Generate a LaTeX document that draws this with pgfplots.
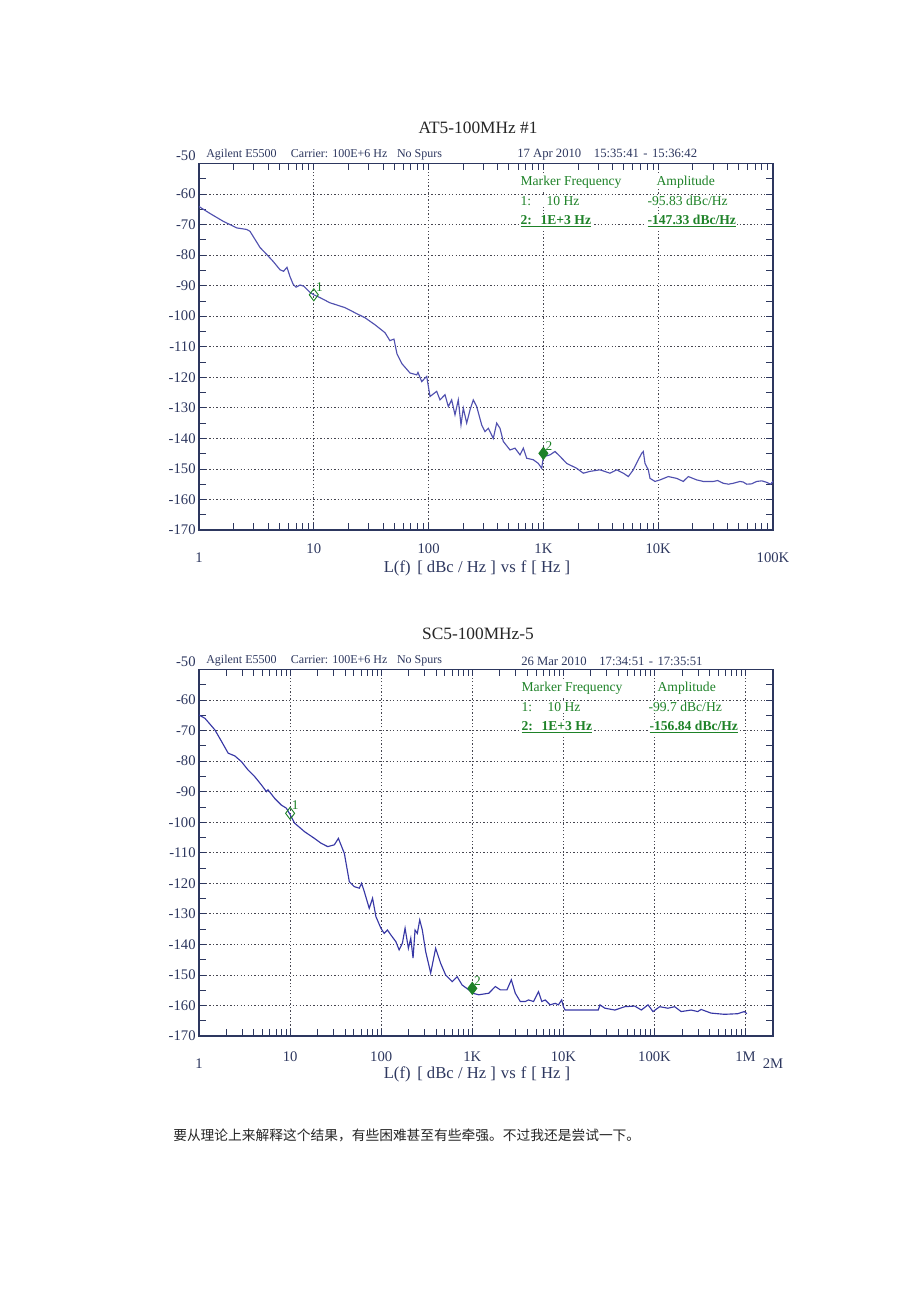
\documentclass[border=0pt]{standalone}
\usepackage{fontspec}
\setmainfont{Liberation Serif}
\newfontfamily\cjk{Noto Sans CJK SC}
\usepackage{pgfplots}
\pgfplotsset{compat=1.18}
\definecolor{navy}{RGB}{45,55,95}
\definecolor{mgreen}{RGB}{30,130,40}
\definecolor{curveA}{RGB}{80,80,175}
\definecolor{curveB}{RGB}{55,55,165}
\definecolor{gridc}{RGB}{70,70,80}
\newcommand\fs[1]{\fontsize{#1}{#1}\selectfont}
\newcommand\lowA[1]{\rule{0pt}{14.2pt}#1}
\newcommand\lowB[1]{\rule{0pt}{12.7pt}#1}
\newcommand\hi[1]{\rule[-12pt]{0pt}{12pt}#1}

\pgfplotstableread{
f L
1 -64.1
1.25 -66.4
1.62 -68.9
2.13 -71.1
2.6 -71.6
2.78 -72.2
3.08 -74.9
3.4 -77.5
3.89 -79.8
4.41 -82.0
5.08 -84.8
5.45 -85.3
5.84 -84.0
6.2 -87.0
6.6 -89.5
7.0 -90.5
7.6 -89.8
8.2 -90.2
9.27 -92.2
10 -93.0
11.3 -93.9
13.8 -95.6
18.7 -97.2
22.9 -98.9
27.9 -100.5
34.1 -102.8
41.7 -105.4
46 -108.0
49.9 -107.5
53 -112.3
58.7 -115.6
68.9 -118.6
78.8 -119.2
80.8 -118.4
87.1 -121.4
96.3 -119.7
102.9 -126.3
117.6 -124.6
125.7 -127.4
139 -125.7
148.5 -129.6
158.9 -127.4
169.8 -132.3
181.4 -127.4
191.5 -135.6
200.6 -130.1
214.7 -135.0
229.4 -130.7
245.1 -127.4
262.4 -129.6
290.1 -135.6
309.9 -137.8
331.1 -136.7
366.1 -140.0
391.9 -135.0
418.8 -136.7
447.4 -141.0
511.7 -143.8
565.6 -143.2
625.6 -145.4
668.3 -143.2
715.4 -146.5
816.6 -147.0
902.7 -148.2
966.5 -149.8
1000 -146.0
1141 -145.4
1262 -144.3
1395 -145.9
1596 -148.2
1950 -149.8
2227 -151.4
2547 -150.8
3112 -150.3
3803 -151.4
4350 -150.3
4967 -151.4
5492 -152.5
6069 -150.3
6709 -147.0
7181 -144.9
7418 -144.3
7674 -148.2
8200 -150.3
8485 -153.1
9377 -154.1
10368 -153.6
12246 -152.5
14496 -153.1
16542 -154.1
18290 -152.5
21646 -153.6
24717 -154.1
30200 -154.1
33000 -153.8
36900 -154.7
41000 -155.0
45100 -154.7
51600 -154.1
55000 -154.3
59000 -155.0
65000 -154.9
72100 -154.1
80000 -153.9
88100 -154.4
95000 -155.0
100000 -154.1
}\dataA

\pgfplotstableread{
f L
1 -64.9
1.163 -66.0
1.496 -69.8
1.771 -73.6
2.09 -77.4
2.475 -78.3
2.928 -80.2
3.458 -82.9
4.093 -85.1
4.845 -87.8
5.495 -90.0
5.72 -89.4
6.77 -92.2
8.01 -94.4
9.09 -95.4
10 -97.5
11.2 -100.3
14.4 -103.1
18.5 -105.3
21.9 -106.9
25.9 -108.0
30.6 -107.4
33.9 -105.3
39.4 -110.2
44.7 -119.5
50.7 -121.1
57.5 -121.6
60.9 -120.0
65.2 -122.7
73.9 -128.2
80.4 -124.9
87.5 -130.9
99.2 -134.7
107.8 -136.4
117.2 -135.3
127.6 -136.9
144.8 -139.1
157.3 -141.8
170.9 -139.6
182.9 -134.7
198.8 -141.3
211.2 -138.0
223.7 -144.5
235.3 -135.3
249.3 -136.4
264.8 -132.0
282.8 -135.3
308 -142.4
349.4 -149.4
396.1 -141.3
449.3 -146.2
509.5 -150.0
601.6 -152.2
682.2 -150.6
773.6 -153.3
915.6 -154.9
1013 -156.0
1178 -156.5
1515 -156.0
1793 -153.8
2033 -154.9
2401 -154.9
2682 -151.6
2966 -156.0
3364 -158.7
3814 -158.7
4145 -158.2
4700 -158.7
5331 -155.5
5792 -158.7
6310 -158.2
7155 -159.8
8118 -159.3
8820 -159.8
9581 -158.2
10000 -160.4
10437 -161.5
12320 -161.5
14585 -161.5
24130 -161.5
25190 -159.8
28560 -160.9
36730 -161.5
47240 -160.4
60760 -160.2
71750 -161.5
84920 -159.8
96300 -162.0
114000 -160.4
140500 -160.9
166300 -160.4
196300 -162.0
252500 -161.5
298800 -162.0
324800 -161.3
417700 -162.5
585200 -162.9
817800 -162.7
967800 -162.0
1033000 -162.7
}\dataB

\begin{document}
\begin{tikzpicture}
\useasboundingbox (0,0) rectangle (690pt,-976.5pt);
\fill[white] (0,0) rectangle (690pt,-976.5pt);

% ---------------- Plot 1 ----------------
\begin{axis}[at={(149.25pt,-397.5pt)}, anchor=south west,
    scale only axis, width=430.5pt, height=274.9pt,
    xmode=log, xmin=1, xmax=100000, ymin=-170, ymax=-50,
    axis line style={navy, line width=0.8pt},
    ytick={-170,-160,-150,-140,-130,-120,-110,-100,-90,-80,-70,-60,-50},
    yticklabels={-170,-160,-150,-140,-130,-120,-110,-100,-90,-80,-70,-60,\hi{-50}},
    minor ytick={-165,-155,-145,-135,-125,-115,-105,-95,-85,-75,-65,-55},
    tick style={navy, line width=0.6pt},
    major tick length=5pt, minor tick length=5pt,
    tick align=inside,
    grid=major,
    major grid style={gridc, line width=0.6pt, dash pattern=on 1pt off 1.6pt},
    ticklabel style={font=\fs{11}, text=navy},
    yticklabel style={xshift=1pt},
    xtick={1,10,100,1000,10000,100000},
    xticklabels={\lowA{1},10,100,1K,10K,\lowA{100K}},
    minor xtick={2,3,4,5,6,7,8,9,20,30,40,50,60,70,80,90,200,300,400,500,600,700,800,900,2000,3000,4000,5000,6000,7000,8000,9000,20000,30000,40000,50000,60000,70000,80000,90000},
    xticklabel style={yshift=-6.75pt},
]
\addplot[curveA, line width=0.85pt] table[x=f, y=L] {\dataA};
\addplot[only marks, mark=diamond, mark size=4.5pt, mgreen, line width=0.7pt] coordinates {(10,-93.0)};
\addplot[only marks, mark=diamond*, mark size=4.5pt, mgreen, line width=0.7pt] coordinates {(1000,-144.9)};
\node[anchor=south west, font=\fs{10}, text=mgreen, inner sep=0pt] at (axis cs:10.4,-92) {1};
\node[anchor=south west, font=\fs{10}, text=mgreen, inner sep=0pt] at (axis cs:1040,-144) {2};
\end{axis}

% ---------------- Plot 2 ----------------
\begin{axis}[at={(149.25pt,-777pt)}, anchor=south west,
    scale only axis, width=430.5pt, height=274.9pt,
    xmode=log, xmin=1, xmax=2000000, ymin=-170, ymax=-50,
    axis line style={navy, line width=0.8pt},
    ytick={-170,-160,-150,-140,-130,-120,-110,-100,-90,-80,-70,-60,-50},
    yticklabels={-170,-160,-150,-140,-130,-120,-110,-100,-90,-80,-70,-60,\hi{-50}},
    minor ytick={-165,-155,-145,-135,-125,-115,-105,-95,-85,-75,-65,-55},
    tick style={navy, line width=0.6pt},
    major tick length=5pt, minor tick length=5pt,
    tick align=inside,
    grid=major,
    major grid style={gridc, line width=0.6pt, dash pattern=on 1pt off 1.6pt},
    ticklabel style={font=\fs{11}, text=navy},
    yticklabel style={xshift=1pt},
    xtick={1,10,100,1000,10000,100000,1000000,2000000},
    xticklabels={\lowB{1},10,100,1K,10K,100K,1M,\lowB{2M}},
    minor xtick={2,3,4,5,6,7,8,9,20,30,40,50,60,70,80,90,200,300,400,500,600,700,800,900,2000,3000,4000,5000,6000,7000,8000,9000,20000,30000,40000,50000,60000,70000,80000,90000,200000,300000,400000,500000,600000,700000,800000,900000},
    xticklabel style={yshift=-8.25pt},
]
\addplot[curveB, line width=0.85pt] table[x=f, y=L] {\dataB};
\addplot[only marks, mark=diamond, mark size=4.5pt, mgreen, line width=0.7pt] coordinates {(10,-97.1)};
\addplot[only marks, mark=diamond*, mark size=4.5pt, mgreen, line width=0.7pt] coordinates {(1000,-154.4)};
\node[anchor=south west, font=\fs{10}, text=mgreen, inner sep=0pt] at (axis cs:10.4,-96) {1};
\node[anchor=south west, font=\fs{10}, text=mgreen, inner sep=0pt] at (axis cs:1040,-153.5) {2};
\end{axis}

\begin{scope}[x=0.75pt, y=-0.75pt]
% Plot 1 texts
\node[font=\fs{13}, text=black!85] at (478,128) {AT5-100MHz \#1};
\node[font=\fs{9}, text=navy, anchor=west, inner sep=0pt] at (206,155) {Agilent E5500\hspace{1.2em}Carrier: 100E+6 Hz\hspace{0.8em}No Spurs};
\node[font=\fs{9.5}, text=navy, anchor=west, inner sep=0pt] at (517,155) {17 Apr 2010\hspace{1em}15:35:41\hspace{0.35em}-\hspace{0.35em}15:36:42};
\node[font=\fs{12.5}, text=navy] at (477,568) {L(f)\hspace{0.4em}[ dBc / Hz ]\hspace{0.3em}vs\hspace{0.3em}f\hspace{0.3em}[ Hz ]};
\node[font=\fs{10.2}, text=mgreen, anchor=west, inner sep=1pt, fill=white] at (519,182) {Marker Frequency};
\node[font=\fs{10.2}, text=mgreen, anchor=west, inner sep=1pt, fill=white] at (655,182) {Amplitude};
\node[font=\fs{10.2}, text=mgreen, anchor=west, inner sep=1pt, fill=white] at (519,201) {1:\hspace{11.5pt}10 Hz};
\node[font=\fs{10.2}, text=mgreen, anchor=west, inner sep=1pt, fill=white] at (646,201) {-95.83 dBc/Hz};
\node[font=\fs{10.2}, text=mgreen, anchor=west, inner sep=1pt, fill=white] at (519,221) {\bfseries\underline{2:\hspace{6.5pt}1E+3 Hz}};
\node[font=\fs{10.2}, text=mgreen, anchor=west, inner sep=1pt, fill=white] at (646,221) {\bfseries\underline{-147.33 dBc/Hz}};

% Plot 2 texts
\node[font=\fs{13}, text=black!85] at (478,634) {SC5-100MHz-5};
\node[font=\fs{9}, text=navy, anchor=west, inner sep=0pt] at (206,661) {Agilent E5500\hspace{1.2em}Carrier: 100E+6 Hz\hspace{0.8em}No Spurs};
\node[font=\fs{9.5}, text=navy, anchor=west, inner sep=0pt] at (521,661) {26 Mar 2010\hspace{1em}17:34:51\hspace{0.35em}-\hspace{0.35em}17:35:51};
\node[font=\fs{12.5}, text=navy] at (477,1074) {L(f)\hspace{0.4em}[ dBc / Hz ]\hspace{0.3em}vs\hspace{0.3em}f\hspace{0.3em}[ Hz ]};
\node[font=\fs{10.2}, text=mgreen, anchor=west, inner sep=1pt, fill=white] at (520,688) {Marker Frequency};
\node[font=\fs{10.2}, text=mgreen, anchor=west, inner sep=1pt, fill=white] at (656,688) {Amplitude};
\node[font=\fs{10.2}, text=mgreen, anchor=west, inner sep=1pt, fill=white] at (520,707) {1:\hspace{11.5pt}10 Hz};
\node[font=\fs{10.2}, text=mgreen, anchor=west, inner sep=1pt, fill=white] at (647,707) {-99.7 dBc/Hz};
\node[font=\fs{10.2}, text=mgreen, anchor=west, inner sep=1pt, fill=white] at (520,727) {\bfseries\underline{2:\hspace{6.5pt}1E+3 Hz}};
\node[font=\fs{10.2}, text=mgreen, anchor=west, inner sep=1pt, fill=white] at (648,727) {\bfseries\underline{-156.84 dBc/Hz}};

% Chinese paragraph
\node[font={\cjk\fs{10.3}}, text=black!85, anchor=west, inner sep=0pt] at (173,1135) {要从理论上来解释这个结果，有些困难甚至有些牵强。不过我还是尝试一下。};
\end{scope}
\end{tikzpicture}
\end{document}
